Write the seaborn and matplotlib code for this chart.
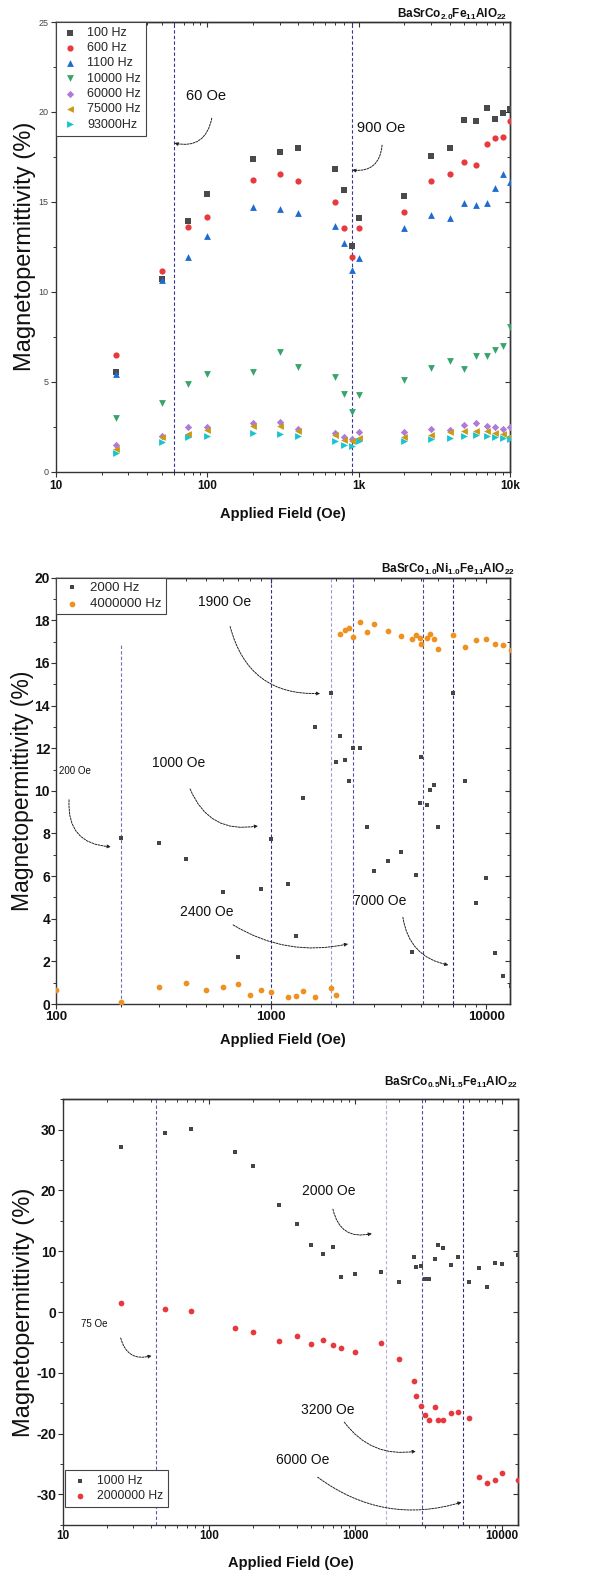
import numpy as np
import pandas as pd
import matplotlib
matplotlib.use("Agg")
import matplotlib.pyplot as plt
import seaborn as sns
from matplotlib.ticker import LogLocator, NullFormatter, FixedLocator, MultipleLocator

sns.set_style("ticks")
plt.rcParams["font.family"] = ["Liberation Sans", "DejaVu Sans"]
plt.rcParams["mathtext.fontset"] = "custom"
plt.rcParams["mathtext.rm"] = "Liberation Sans"
plt.rcParams["mathtext.bf"] = "Liberation Sans:bold"
plt.rcParams["mathtext.it"] = "Liberation Sans:italic"

# ---------------- BaSrCo2.0Fe11AlO22 ----------------
field_a = [25, 50, 75, 100, 200, 300, 400, 700, 800, 900, 1000,
           2000, 3000, 4000, 5000, 6000, 7000, 8000, 9000, 10000]
hz_100 = [5.52, 10.7, 13.91, 15.44, 17.37, 17.78, 18.02, 16.85, 15.63, 12.54, 14.08,
          15.3, 17.54, 18.02, 19.54, 19.48, 20.24, 19.58, 19.95, 20.17]
hz_600 = [6.5, 11.15, 13.58, 14.17, 16.22, 16.56, 16.17, 14.98, 13.54, 11.91, 13.52,
          14.43, 16.17, 16.52, 17.21, 17.06, 18.24, 18.54, 18.63, 19.48]
hz_1100 = [5.45, 10.65, 11.91, 13.11, 14.72, 14.58, 14.37, 13.65, 12.69, 11.19, 11.87,
           13.56, 14.28, 14.09, 14.94, 14.83, 14.96, 15.74, 16.56, 16.09]
hz_10000 = [2.95, 3.8, 4.89, 5.45, 5.52, 6.65, 5.8, 5.24, 4.32, 3.3, 4.26,
            5.11, 5.76, 6.15, 5.7, 6.44, 6.44, 6.76, 6.98, 8.02]
hz_60000 = [1.45, 1.95, 2.5, 2.47, 2.72, 2.78, 2.39, 2.13, 1.91, 1.82, 2.19,
            2.2, 2.35, 2.32, 2.58, 2.7, 2.54, 2.47, 2.37, 2.47]
hz_75000 = [1.26, 1.9, 2.08, 2.3, 2.54, 2.54, 2.24, 2.05, 1.75, 1.7, 1.85,
            1.9, 2.05, 2.2, 2.25, 2.25, 2.25, 2.15, 2.1, 2.0]
hz_93000 = [1.02, 1.65, 1.91, 1.95, 2.13, 2.08, 1.98, 1.72, 1.5, 1.43, 1.67,
            1.7, 1.82, 1.85, 1.97, 2.02, 1.98, 1.91, 1.85, 1.78]
labels_a = ["100 Hz", "600 Hz", "1100 Hz", "10000 Hz", "60000 Hz", "75000 Hz", "93000Hz"]
colors_a = ["#4a4a4a", "#e8393f", "#1f6bd1", "#37a56b", "#b07ad8", "#c99a12", "#19c4cf"]
markers_a = ["s", "o", "^", "v", "D", "<", ">"]
sizes_a = [15, 20, 24, 24, 14, 24, 24]
lines_a = [60, 900]
line_colors_a = ["#34349a", "#34349a"]

# ---------------- BaSrCo1.0Ni1.0Fe11AlO22 ----------------
field_b_2k = [200, 300, 400, 600, 700, 900, 1000, 1200, 1300, 1400, 1600, 1900, 2000,
              2100, 2200, 2300, 2400, 2600, 2800, 3000, 3500, 4000, 4500, 4700, 4900,
              5000, 5300, 5500, 5700, 6000, 7000, 8000, 9000, 10000, 11000, 12000, 13000]
hz_2000 = [7.81, 7.56, 6.81, 5.24, 2.2, 5.41, 7.75, 5.62, 3.19, 9.66, 12.99, 14.57, 11.35,
           12.57, 11.47, 10.48, 12.03, 12.03, 8.32, 6.26, 6.7, 7.14, 2.46, 6.07, 9.42,
           11.6, 9.34, 10.06, 10.27, 8.32, 14.57, 10.47, 4.76, 5.93, 2.41, 1.3, 0.85]
field_b_4m = [100, 200, 300, 400, 500, 600, 700, 800, 900, 1000, 1200, 1300, 1400, 1600,
              1900, 2000, 2100, 2200, 2300, 2400, 2600, 2800, 3000, 3500, 4000, 4500,
              4700, 4900, 5000, 5300, 5500, 5700, 6000, 7000, 8000, 9000, 10000, 11000,
              12000, 13000]
hz_4000000 = [0.66, 0.11, 0.81, 0.99, 0.67, 0.8, 0.95, 0.42, 0.64, 0.55, 0.34, 0.38, 0.6,
              0.34, 0.77, 0.42, 17.38, 17.54, 17.62, 17.22, 17.9, 17.45, 17.83, 17.5,
              17.26, 17.12, 17.29, 17.17, 16.9, 17.18, 17.34, 17.14, 16.67, 17.32, 16.73,
              17.1, 17.14, 16.89, 16.82, 16.62]
lines_b = [200, 1000, 1900, 2400, 5100, 7000]
line_tops_b = [16.95, 20, 20, 20, 20, 20]
line_colors_b = ["#7070bb", "#30308f", "#9c9cd2", "#5050a6", "#45459a", "#2a2a70"]

# ---------------- BaSrCo0.5Ni1.5Fe11AlO22 ----------------
field_c = [25, 50, 75, 150, 200, 300, 400, 500, 600, 700, 800, 1000, 1500, 2000, 2500,
           2600, 2800, 3000, 3200, 3500, 3700, 4000, 4500, 5000, 6000, 7000, 8000, 9000,
           10000, 13000]
hz_1000 = [27.2, 29.4, 30.05, 26.3, 23.95, 17.63, 14.4, 11.1, 9.56, 10.7, 5.83, 6.26,
           6.54, 5.0, 9.01, 7.42, 7.58, 5.5, 5.5, 8.73, 11.04, 10.5, 7.8, 9.13, 4.89,
           7.31, 4.18, 8.02, 7.91, 9.4]
hz_2000000 = [1.55, 0.5, 0.1, -2.69, -3.24, -4.83, -4.0, -5.32, -4.66, -5.49, -5.98,
              -6.59, -5.05, -7.79, -11.36, -13.9, -15.4, -16.97, -17.73, -15.59, -17.73,
              -17.84, -16.69, -16.52, -17.46, -27.07, -28.06, -27.6, -26.52, -27.6]
lines_c = [43, 1630, 2850, 5450]
line_colors_c = ["#5a5ab0", "#b0b0da", "#5050a0", "#2a2a80"]

W, H = 610, 1576
fig = plt.figure(figsize=(W / 100, H / 100), dpi=100)
fig.patch.set_facecolor("white")


def axes_px(left, top, right, bottom):
    return fig.add_axes([left / W, 1 - bottom / H, (right - left) / W, (bottom - top) / H])


def scatter(ax, x, y, label, color, marker, size):
    sns.scatterplot(x=x, y=y, ax=ax, color=color, marker=marker, s=size,
                    linewidth=0, label=label, legend=False, zorder=3)


def frame(ax, xlim, ylim, xticks, xticklabels, xfs, ymaj, ymin, yfs, ybold, ycolor,
          xpad, ypad):
    ax.set_xscale("log")
    ax.set_xlim(*xlim)
    ax.set_ylim(*ylim)
    ax.set_xticks(xticks)
    ax.set_xticklabels(xticklabels, fontsize=xfs, fontweight="bold", color="#111")
    ax.xaxis.set_minor_locator(LogLocator(base=10, subs=np.arange(2, 10)))
    ax.xaxis.set_minor_formatter(NullFormatter())
    yt = np.arange(np.ceil(ylim[0] / ymaj) * ymaj, ylim[1] + 1e-9, ymaj)
    ax.set_yticks(yt)
    ax.set_yticklabels([f"{v:g}" for v in yt], fontsize=yfs,
                       fontweight="bold" if ybold else "normal", color=ycolor)
    ax.yaxis.set_minor_locator(MultipleLocator(ymin))
    ax.tick_params(axis="both", which="major", direction="out", length=3.5, width=0.8,
                   color="#333")
    ax.tick_params(axis="both", which="minor", direction="out", length=2, width=0.7,
                   color="#333")
    ax.tick_params(axis="x", which="major", pad=xpad)
    ax.tick_params(axis="y", which="major", pad=ypad)
    for sp in ax.spines.values():
        sp.set_linewidth(1.0)
        sp.set_color("#333")
    # inward ticks on the opposite sides
    top = ax.secondary_xaxis("top")
    top.xaxis.set_major_locator(FixedLocator(xticks))
    top.xaxis.set_major_formatter(NullFormatter())
    top.xaxis.set_minor_locator(LogLocator(base=10, subs=np.arange(2, 10)))
    top.xaxis.set_minor_formatter(NullFormatter())
    top.tick_params(which="major", direction="in", length=3.5, width=0.8, color="#333")
    top.tick_params(which="minor", direction="in", length=2, width=0.7, color="#333")
    top.spines["top"].set_linewidth(1.0)
    top.spines["top"].set_color("#333")
    right = ax.secondary_yaxis("right")
    right.yaxis.set_major_locator(FixedLocator(yt))
    right.yaxis.set_major_formatter(NullFormatter())
    right.yaxis.set_minor_locator(MultipleLocator(ymin))
    right.tick_params(which="major", direction="in", length=3.5, width=0.8, color="#333")
    right.tick_params(which="minor", direction="in", length=2, width=0.7, color="#333")
    right.spines["right"].set_linewidth(1.0)
    right.spines["right"].set_color("#333")


def vlines(ax, xs, colors, tops=None):
    y0, y1 = ax.get_ylim()
    for i, (xv, c) in enumerate(zip(xs, colors)):
        frac = 1.0 if tops is None else (tops[i] - y0) / (y1 - y0)
        ax.axvline(xv, ymin=0, ymax=frac, color=c, lw=0.8, ls=(0, (3, 2)), zorder=1)


def note(ax, text, txy, start, end, rad, fs):
    ax.text(txy[0], txy[1], text, fontsize=fs, ha="left", va="center", color="#111")
    ax.annotate("", xy=end, xytext=start,
                arrowprops=dict(arrowstyle="-|>", connectionstyle=f"arc3,rad={rad}",
                                ls=(0, (2, 1.2)), lw=0.7, color="#222",
                                mutation_scale=5, shrinkA=0, shrinkB=0))


def labels(ax, ylabel_x, xlabel_y, yfs=17):
    ax.set_ylabel("Magnetopermittivity (%)", fontsize=yfs, va="center", color="#111")
    ax.yaxis.set_label_coords(ylabel_x, 0.5)
    ax.set_xlabel("Applied Field (Oe)", fontsize=10.5, fontweight="bold", va="center",
                  color="#111")
    ax.xaxis.set_label_coords(0.5, xlabel_y)


def legend(ax, loc, anchor, fs, hl, htp, ls, bp):
    lg = ax.legend(loc=loc, bbox_to_anchor=anchor, borderaxespad=0, fontsize=fs,
                   frameon=True, fancybox=False, framealpha=1, edgecolor="#444",
                   handlelength=hl, handletextpad=htp, labelspacing=ls, borderpad=bp,
                   scatterpoints=1)
    lg.get_frame().set_linewidth(0.8)
    lg.set_zorder(5)
    return lg


# ---------- panel 1 ----------
ax1 = axes_px(56, 22, 510, 471.5)
series_a = [hz_100, hz_600, hz_1100, hz_10000, hz_60000, hz_75000, hz_93000]
for vals, lab, col, mk, sz in zip(series_a, labels_a, colors_a, markers_a, sizes_a):
    scatter(ax1, field_a, vals, lab, col, mk, sz)
frame(ax1, (10, 10000), (0, 25), [10, 100, 1000, 10000], ["10", "100", "1k", "10k"],
      8.5, 5, 2.5, 6.5, False, "#444", 2.5, 2.0)
vlines(ax1, lines_a, line_colors_a)
note(ax1, "60 Oe", (72, 20.9), (107, 19.65), (60.5, 18.26), -0.5, 10.5)
note(ax1, "900 Oe", (975, 19.1), (1428, 18.15), (905, 16.76), -0.5, 10.5)
labels(ax1, -(56 - 25) / 454, -0.094)
legend(ax1, "upper left", (0, 1), 9, 1.5, 0.6, 0.26, 0.4)
fig.text(507 / W, 1 - 14 / H, r"$\mathbf{BaSrCo_{2.0}Fe_{11}AlO_{22}}$",
         ha="right", va="center", fontsize=8.5, color="#111")

# ---------- panel 2 ----------
ax2 = axes_px(56, 577.7, 510, 1004)
scatter(ax2, field_b_2k, hz_2000, "2000 Hz", "#454545", "s", 12)
scatter(ax2, field_b_4m, hz_4000000, "4000000 Hz", "#f0901e", "o", 17)
frame(ax2, (100, 12900), (0, 20), [100, 1000, 10000], ["100", "1000", "10000"],
      9.5, 2, 1, 10, True, "#111", 1.5, 0.8)
vlines(ax2, lines_b, line_colors_b, tops=line_tops_b)
note(ax2, "1900 Oe", (458, 18.84), (645, 17.71), (1690, 14.57), 0.4, 10)
note(ax2, "200 Oe", (103, 10.94), (115, 9.58), (180, 7.38), 0.5, 7)
note(ax2, "1000 Oe", (280, 11.3), (420, 10.09), (870, 8.36), 0.4, 10)
note(ax2, "2400 Oe", (377, 4.33), (666, 3.71), (2281, 2.82), 0.2, 10)
note(ax2, "7000 Oe", (2405, 4.85), (4099, 4.07), (6678, 1.83), 0.35, 10)
labels(ax2, -(56 - 22) / 454, -0.085, yfs=16.5)
legend(ax2, "upper left", (0, 1), 9.5, 1.9, 0.4, 0.3, 0.3)
fig.text(515 / W, 1 - 569 / H, r"$\mathbf{BaSrCo_{1.0}Ni_{1.0}Fe_{11}AlO_{22}}$",
         ha="right", va="center", fontsize=8.5, color="#111")

# ---------- panel 3 ----------
ax3 = axes_px(63.3, 1099.3, 517.7, 1524.7)
scatter(ax3, field_c, hz_1000, "1000 Hz", "#454545", "s", 12)
scatter(ax3, field_c, hz_2000000, "2000000 Hz", "#e8383d", "o", 17)
frame(ax3, (10, 12900), (-35, 35), [10, 100, 1000, 10000], ["10", "100", "1000", "10000"],
      8.5, 10, 5, 10, True, "#111", 0.5, 1.5)
vlines(ax3, lines_c, line_colors_c)
note(ax3, "2000 Oe", (428, 19.9), (701, 16.92), (1297, 12.92), 0.5, 10)
note(ax3, "75 Oe", (13.2, -2.03), (24.7, -4.28), (40.3, -7.18), 0.5, 7)
note(ax3, "3200 Oe", (424, -16.2), (838, -18.12), (2594, -22.9), 0.3, 10)
note(ax3, "6000 Oe", (286, -24.4), (551, -27.18), (5333, -31.3), 0.25, 10)
labels(ax3, -(63.3 - 24) / 454.4, -0.091)
legend(ax3, "lower left", ((65 - 63.3) / 454.4, (1524.7 - 1507.3) / 425.4),
       8.7, 1.7, 0.55, 0.28, 0.4)
fig.text(518 / W, 1 - 1082 / H, r"$\mathbf{BaSrCo_{0.5}Ni_{1.5}Fe_{11}AlO_{22}}$",
         ha="right", va="center", fontsize=8.5, color="#111")

fig.savefig("out.png", dpi=100, facecolor="white")
